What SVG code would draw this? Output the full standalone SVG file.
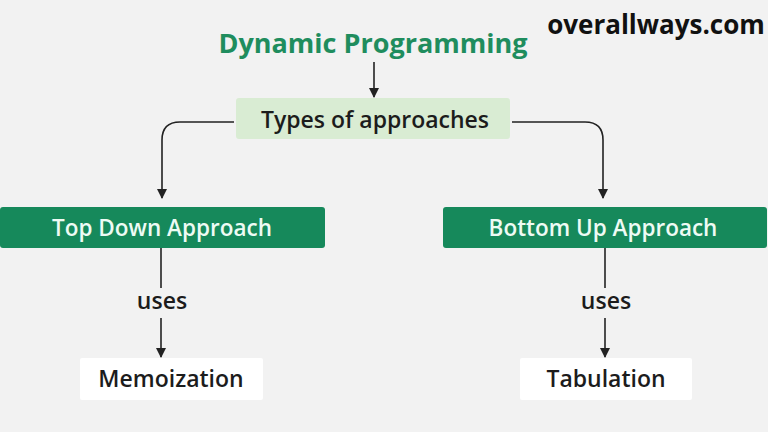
<svg xmlns="http://www.w3.org/2000/svg" width="768" height="432" viewBox="0 0 768 432">
<defs>
<marker id="ah" viewBox="0 0 10 10" refX="9" refY="5" markerWidth="10" markerHeight="10" markerUnits="userSpaceOnUse" orient="auto">
<path d="M0,0 L10,5 L0,10 z" fill="#222"/>
</marker>
<style>
.t{font-family:"Open Sans","Noto Sans",sans-serif;text-anchor:middle}
.dark{fill:#1c1c1c;font-size:23px;font-weight:600}
.white{fill:#eefbf4;font-size:22.5px;font-weight:600}
.c{fill:none;stroke:#222;stroke-width:1.6}
.g{fill:#16895b}
</style>
</defs>
<rect width="768" height="432" fill="#f2f2f2"/>
<g id="watermark"><text x="656" y="34" class="t" style="font-size:26px;font-weight:700;fill:#111">overallways.com</text></g>
<g id="title"><text x="373" y="53" class="t" style="font-size:27px;font-weight:700;fill:#1f8d5e">Dynamic Programming</text></g>
<g id="types"><rect x="236" y="98" width="274" height="41" rx="3" fill="#d9ecd3"/><text x="375" y="128" class="t dark">Types of approaches</text></g>
<g id="topdown"><rect x="0" y="207" width="325" height="41" rx="3" class="g"/><text x="162" y="236" class="t white">Top Down Approach</text></g>
<g id="bottomup"><rect x="443" y="207" width="324" height="41" rx="3" class="g"/><text x="603" y="236" class="t white">Bottom Up Approach</text></g>
<g id="memo"><rect x="80" y="358" width="183" height="42" rx="2" fill="#ffffff"/><text x="171" y="387" class="t dark">Memoization</text></g>
<g id="tab"><rect x="520" y="358" width="172" height="42" rx="2" fill="#ffffff"/><text x="606" y="387" class="t dark">Tabulation</text></g>
<g id="connectors">
<path class="c" d="M234,122 H180 Q162,122 162,140 V198" marker-end="url(#ah)"/>
<path class="c" d="M374,62 V97" marker-end="url(#ah)"/>
<path class="c" d="M512,122 H585 Q603,122 603,140 V198" marker-end="url(#ah)"/>
<path class="c" d="M161,248 V288"/>
<path class="c" d="M161,318 V357" marker-end="url(#ah)"/>
<path class="c" d="M605,248 V288"/>
<path class="c" d="M605,318 V357" marker-end="url(#ah)"/>
<text x="162" y="309" class="t dark">uses</text>
<text x="606" y="309" class="t dark">uses</text>
</g>
</svg>
